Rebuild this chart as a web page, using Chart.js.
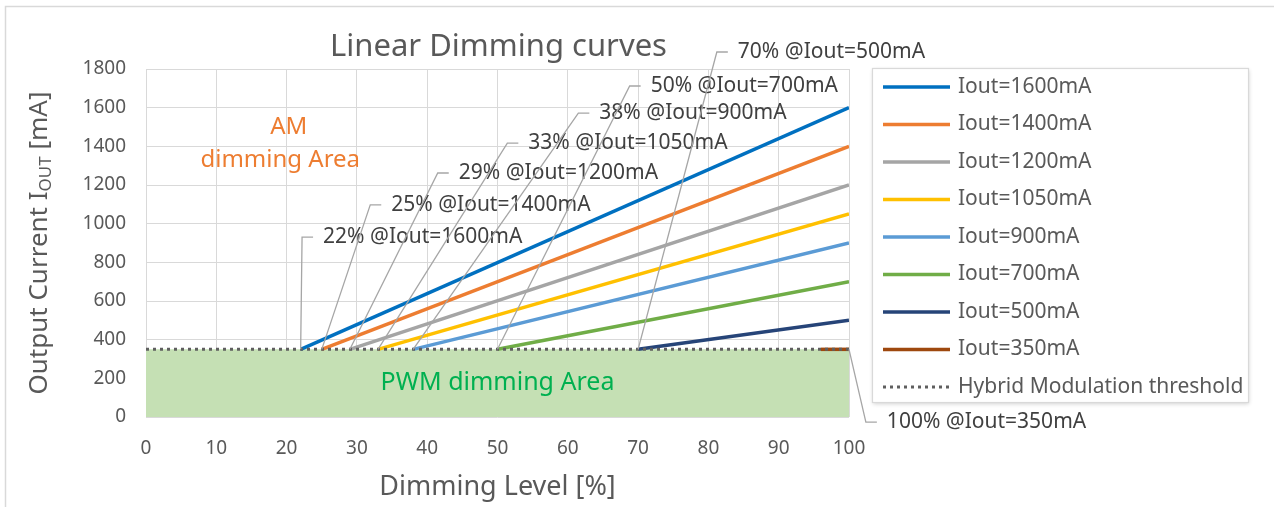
<!DOCTYPE html>
<html>
<head>
<meta charset="utf-8">
<script src="https://cdn.jsdelivr.net/npm/chart.js@4.4.0/dist/chart.umd.min.js"></script>
<style>
  body { margin: 0; background: #fff; }
  #chart { display: block; }
</style>
</head>
<body>
<canvas id="chart" width="1274" height="507"></canvas>
<script>
// output current of each curve (mA), and the dimming level (%) where it leaves the threshold
const iout       = [1600, 1400, 1200, 1050, 900, 700, 500, 350];
const startLevel = [22, 25, 29, 33, 38, 50, 70, 96];
const labelPct   = [22, 25, 29, 33, 38, 50, 70, 100];
const threshold  = 350;
const xRange = [0, 100];
const yRange = [0, 1800];

const colors = ['#0070C0', '#ED7D31', '#A5A5A5', '#FFC000', '#5B9BD5', '#70AD47', '#264478', '#9E480E'];
const FONT = "'Noto Sans', 'Open Sans', sans-serif";

// where the callout for each curve sits (data units of the chart)
const calloutPos = [
  [22.2, 930], [31.9, 1097], [41.5, 1262], [51.4, 1417],
  [61.5, 1572], [68.8, 1712], [81.2, 1888], [102.4, -26]
];

const datasets = iout.map((v, i) => ({
  label: 'Iout=' + v + 'mA',
  data: [{x: startLevel[i], y: threshold}, {x: xRange[1], y: v}],
  borderColor: colors[i],
  borderWidth: 3.5,
  pointRadius: 0,
  fill: false,
  order: 10
}));
datasets.push({
  label: 'Hybrid Modulation threshold',
  data: [{x: xRange[0], y: threshold}, {x: xRange[1], y: threshold}],
  borderColor: '#5F5F5F',
  borderWidth: 3,
  borderDash: [3, 4],
  pointRadius: 0,
  fill: false,
  order: 1
});
datasets.push({
  label: 'PWM area',
  data: [{x: xRange[0], y: threshold}, {x: xRange[1], y: threshold}],
  borderWidth: 0,
  borderColor: 'rgba(0,0,0,0)',
  backgroundColor: '#C5E0B4',
  pointRadius: 0,
  fill: 'origin',
  order: 99
});

const extras = {
  id: 'extras',
  beforeDraw(chart) {
    const ctx = chart.ctx;
    ctx.save();
    ctx.fillStyle = '#fff';
    ctx.fillRect(0, 0, chart.width, chart.height);
    ctx.strokeStyle = '#D9D9D9';
    ctx.lineWidth = 1.5;
    ctx.beginPath();
    ctx.moveTo(5.5, chart.height);
    ctx.lineTo(5.5, 6.5);
    ctx.lineTo(chart.width, 6.5);
    ctx.stroke();
    ctx.restore();
  },
  afterDatasetsDraw(chart) {
    const ctx = chart.ctx;
    const xs = chart.scales.x, ys = chart.scales.y;
    const area = chart.chartArea;
    ctx.save();

    // callouts
    ctx.strokeStyle = '#A6A6A6';
    ctx.lineWidth = 1.3;
    ctx.font = '21px ' + FONT;
    ctx.fillStyle = '#404040';
    ctx.textBaseline = 'middle';
    ctx.textAlign = 'left';
    iout.forEach((v, i) => {
      const px = xs.getPixelForValue(labelPct[i] === 100 ? 100 : startLevel[i]);
      const py = ys.getPixelForValue(threshold);
      const lx = xs.getPixelForValue(calloutPos[i][0]);
      const ly = ys.getPixelForValue(calloutPos[i][1]);
      ctx.beginPath();
      ctx.moveTo(px, py);
      ctx.lineTo(lx, ly);
      ctx.lineTo(lx + 11, ly);
      ctx.stroke();
      ctx.fillText(labelPct[i] + '% @Iout=' + v + 'mA', lx + 21, ly);
    });

    // area captions
    ctx.textAlign = 'center';
    ctx.font = '24px ' + FONT;
    ctx.fillStyle = '#ED7D31';
    ctx.fillText('AM', xs.getPixelForValue(20.3), ys.getPixelForValue(1500));
    ctx.fillText('dimming Area', xs.getPixelForValue(19.1), ys.getPixelForValue(1329));
    ctx.fillStyle = '#00B050';
    ctx.font = '25px ' + FONT;
    ctx.fillText('PWM dimming Area', xs.getPixelForValue(50), ys.getPixelForValue(176));

    // title
    ctx.fillStyle = '#595959';
    ctx.font = '31px ' + FONT;
    ctx.fillText('Linear Dimming curves', (area.left + area.right) / 2 + 1, area.top - 22);

    // y axis title with subscript
    ctx.save();
    ctx.translate(40, (area.top + area.bottom) / 2);
    ctx.rotate(-Math.PI / 2);
    ctx.textAlign = 'left';
    const mainF = '26px ' + FONT, subF = '17px ' + FONT;
    ctx.font = mainF; const w1 = ctx.measureText('Output Current I').width;
    ctx.font = subF;  const w2 = ctx.measureText('OUT').width;
    ctx.font = mainF; const w3 = ctx.measureText(' [mA]').width;
    let sx = -(w1 + w2 + w3) / 2;
    ctx.fillText('Output Current I', sx, 0);
    ctx.font = subF; ctx.fillText('OUT', sx + w1, 6);
    ctx.font = mainF; ctx.fillText(' [mA]', sx + w1 + w2, 0);
    ctx.restore();

    // legend
    const bx = area.right + 23, by = 68, bw = 376, bh = 334;
    ctx.save();
    ctx.shadowColor = 'rgba(0,0,0,0.18)';
    ctx.shadowBlur = 4;
    ctx.shadowOffsetX = 1;
    ctx.shadowOffsetY = 2;
    ctx.fillStyle = '#fff';
    ctx.fillRect(bx, by, bw, bh);
    ctx.restore();
    ctx.strokeStyle = '#D9D9D9';
    ctx.lineWidth = 1.2;
    ctx.strokeRect(bx + 0.5, by + 0.5, bw, bh);
    ctx.font = '21px ' + FONT;
    ctx.textAlign = 'left';
    chart.data.datasets.slice(0, iout.length + 1).forEach((ds, i) => {
      const ry = by + 19 + i * 37.5;
      ctx.save();
      ctx.strokeStyle = ds.borderColor;
      ctx.lineWidth = ds.borderWidth;
      ctx.setLineDash(ds.borderDash || []);
      ctx.beginPath();
      ctx.moveTo(bx + 11, ry);
      ctx.lineTo(bx + 78, ry);
      ctx.stroke();
      ctx.restore();
      ctx.fillStyle = '#595959';
      ctx.fillText(ds.label, bx + 86, ry);
    });

    ctx.restore();
  }
};

new Chart(document.getElementById('chart'), {
  type: 'line',
  data: { datasets: datasets },
  options: {
    responsive: false,
    animation: false,
    layout: { padding: { left: 0, top: 69, right: 425, bottom: 0 } },
    plugins: {
      legend: { display: false },
      title: { display: false },
      tooltip: { enabled: false }
    },
    scales: {
      x: {
        type: 'linear',
        min: xRange[0], max: xRange[1],
        ticks: { stepSize: 10, color: '#595959', font: { family: FONT, size: 19 }, padding: 20 },
        grid: { color: '#D9D9D9', drawTicks: false },
        border: { display: false },
        title: { display: true, text: 'Dimming Level [%]', color: '#595959',
                 font: { family: FONT, size: 27 }, padding: { top: 0, bottom: 3 } },
        afterFit: s => { s.height = 90; }
      },
      y: {
        min: yRange[0], max: yRange[1],
        ticks: { stepSize: 200, color: '#595959', font: { family: FONT, size: 19 }, padding: 20,
                 callback: v => String(v) },
        grid: { color: '#D9D9D9', drawTicks: false },
        border: { display: false },
        afterFit: s => { s.width = 146; }
      }
    }
  },
  plugins: [extras]
});
</script>
</body>
</html>
